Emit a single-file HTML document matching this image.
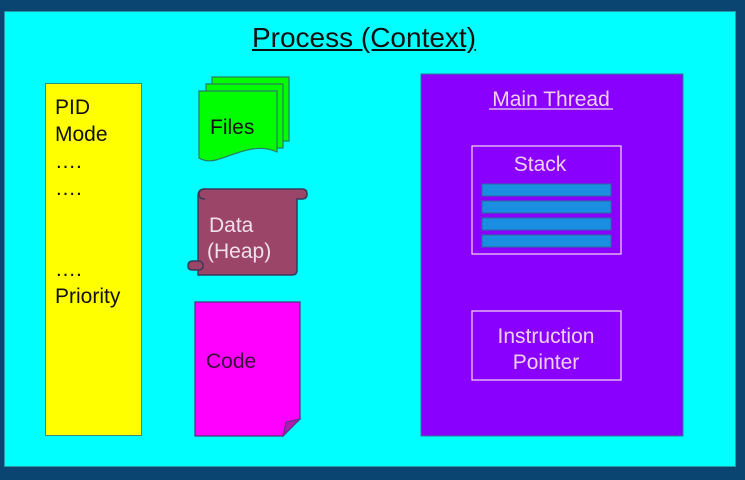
<!DOCTYPE html>
<html><head><style>
body{margin:0;width:745px;height:480px;background:#0a4470;position:relative;overflow:hidden;font-family:"Liberation Sans",sans-serif}
.a{position:absolute}
</style></head><body>
<div class="a" style="left:4px;top:11px;width:732px;height:456px;background:#00ffff;border:1px solid #2a9aa0;box-sizing:border-box"></div>
<div class="a" style="left:0;top:22px;width:728px;text-align:center;font-size:28px;text-decoration:underline;color:#111">Process (Context)</div>
<div class="a" style="left:45px;top:83px;width:97px;height:353px;background:#ffff00;border:1px solid #3a8a80;box-sizing:border-box"></div>
<div class="a" style="left:55px;top:94px;font-size:21px;line-height:27px;color:#111">PID<br>Mode<br>….<br>….<br><br><br>….<br>Priority</div>
<svg class="a" style="left:0;top:0" width="745" height="480">
<g fill="#00ff00" stroke="#2a7a60" stroke-width="1.2">
<rect x="212" y="77" width="77" height="64"/>
<rect x="206" y="84" width="77" height="64"/>
<path d="M199 91 H277 V152 C255 142 235 155 216 160 C208 162 202 160 199 158 Z"/>
</g>
<text x="210" y="134" font-size="21" fill="#111" font-family="Liberation Sans">Files</text>
<g fill="#9b4568" stroke="#3a3a5a" stroke-width="1.5">
<path d="M205 189 H302 Q307 189 307 194 Q307 199 302 199 H297 V270 Q297 275 292 275 H198 V270 H193 Q188 270 188 266 Q188 261 193 261 H198 V196 Q198 189 205 189 Z"/>
<path d="M205 189 Q199 189 199 194 Q199 199 205 199" fill="none"/>
<path d="M198 261 Q203 261 203 266 Q203 270 198 270" fill="none"/>
</g>
<text x="209" y="232" font-size="21" fill="#f0e0ec" font-family="Liberation Sans">Data</text>
<text x="207" y="258" font-size="21" fill="#f0e0ec" font-family="Liberation Sans">(Heap)</text>
<path d="M195 302 H300 V419 L283 436 H195 Z" fill="#ff00ff" stroke="#4a3a7a" stroke-width="1.2"/>
<path d="M300 419 L283 436 L286 422 Z" fill="#b01ab0" stroke="#4a3a7a"/>
<text x="206" y="368" font-size="21" fill="#3a0a3a" font-family="Liberation Sans">Code</text>
<rect x="421" y="74" width="262" height="362" fill="#8a00ff" stroke="#2a7a9a"/>
<text x="551" y="106" font-size="21" fill="#f0d0f0" text-anchor="middle" font-family="Liberation Sans">Main Thread</text>
<line x1="489" y1="109" x2="613" y2="109" stroke="#f0d0f0" stroke-width="1.3"/>
<rect x="472" y="146" width="149" height="108" fill="none" stroke="#f0c8f0" stroke-width="1.3"/>
<text x="540" y="171" font-size="21" fill="#f0d0f0" text-anchor="middle" font-family="Liberation Sans">Stack</text>
<g fill="#1a8ee0" stroke="#2a6aa0">
<rect x="482" y="184" width="129" height="12"/>
<rect x="482" y="201" width="129" height="12"/>
<rect x="482" y="218" width="129" height="12"/>
<rect x="482" y="235" width="129" height="12"/>
</g>
<rect x="472" y="311" width="149" height="69" fill="none" stroke="#f0c8f0" stroke-width="1.3"/>
<text x="546" y="343" font-size="21" fill="#f0d0f0" text-anchor="middle" font-family="Liberation Sans">Instruction</text>
<text x="546" y="369" font-size="21" fill="#f0d0f0" text-anchor="middle" font-family="Liberation Sans">Pointer</text>
</svg>
</body></html>
